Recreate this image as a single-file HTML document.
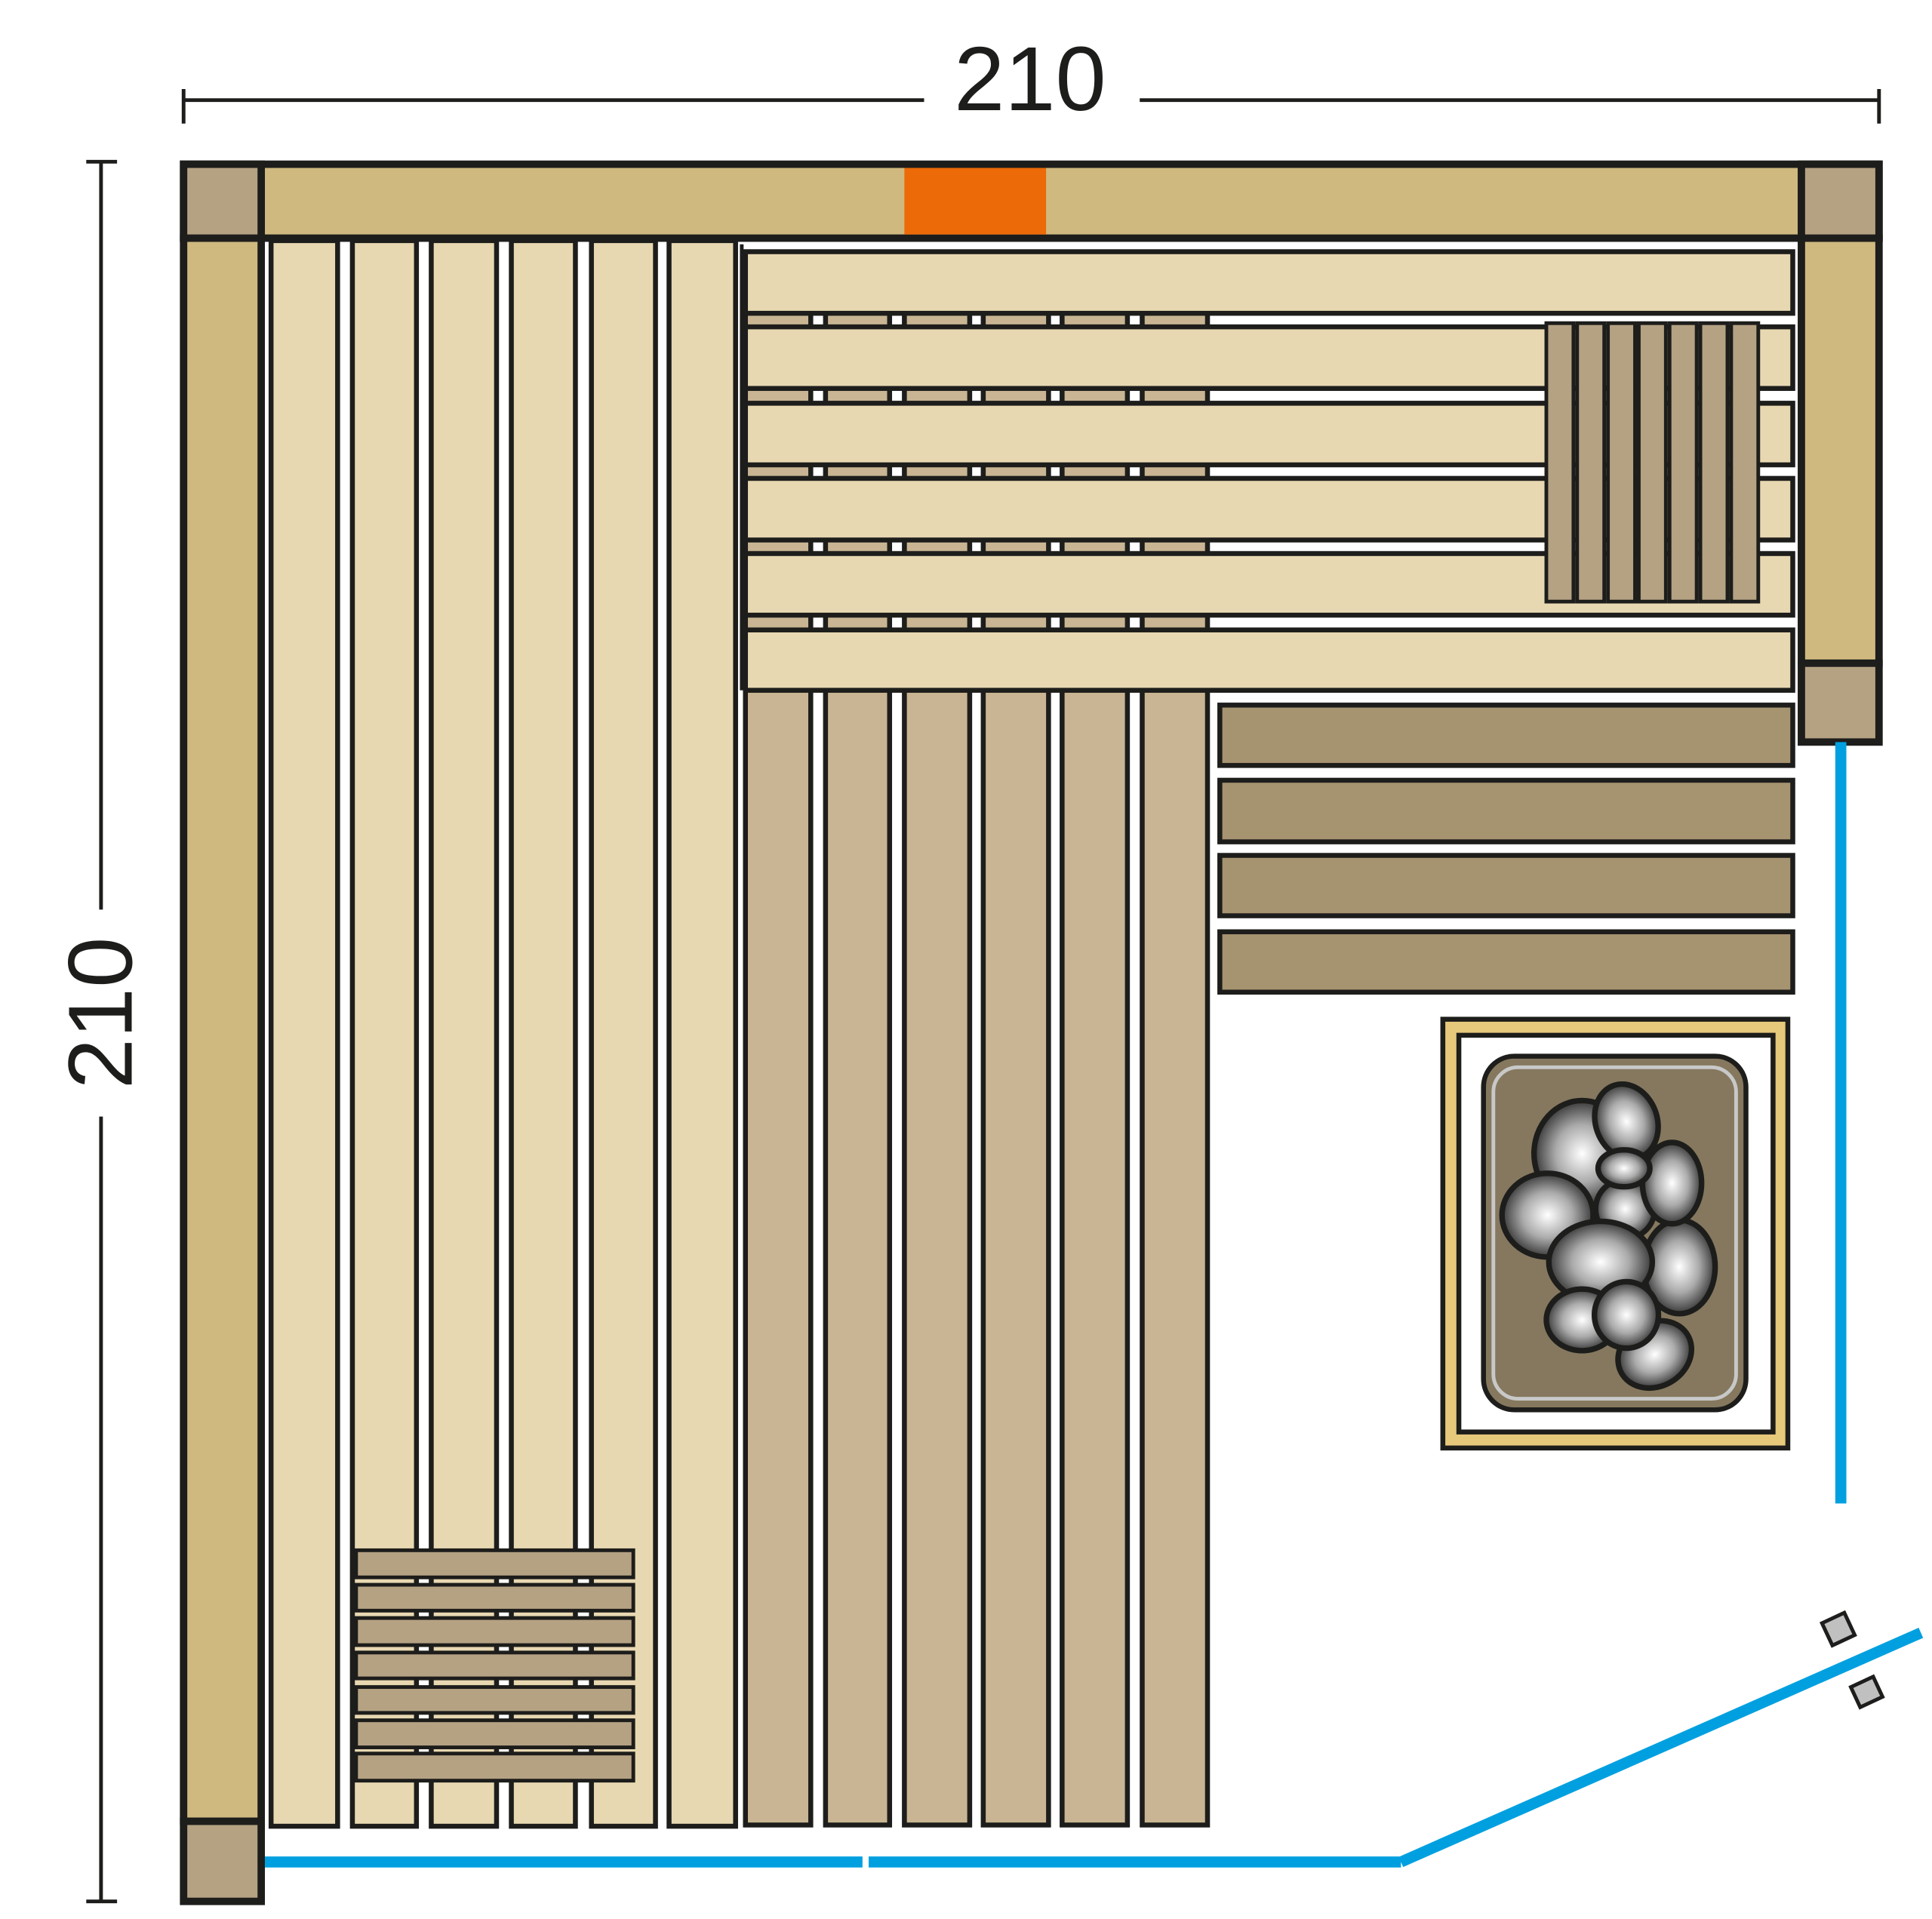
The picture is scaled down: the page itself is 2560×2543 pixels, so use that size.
<!DOCTYPE html>
<html><head><meta charset="utf-8"><style>html,body{margin:0;padding:0;background:#fff}svg{display:block}</style></head><body>
<svg width="2560" height="2543" viewBox="0 0 1568 1557" xmlns="http://www.w3.org/2000/svg">
<defs>
<radialGradient id="st" cx="50%" cy="50%" r="55%"><stop offset="0" stop-color="#fff"/><stop offset="0.5" stop-color="#aaa"/><stop offset="1" stop-color="#202020"/></radialGradient>
</defs>
<g stroke="#1d1d1b" stroke-width="3">
<line x1="149" y1="81" x2="750" y2="81"/><line x1="925" y1="81" x2="1525" y2="81"/>
<line x1="149" y1="72" x2="149" y2="100"/><line x1="1525" y1="72" x2="1525" y2="100"/>
<line x1="82" y1="131" x2="82" y2="738"/><line x1="82" y1="906" x2="82" y2="1543"/>
<line x1="70" y1="131" x2="95" y2="131"/><line x1="70" y1="1543" x2="95" y2="1543"/>
</g>
<text x="836" y="89" font-family="Liberation Sans, sans-serif" font-size="74" text-anchor="middle" fill="#1d1d1b">210</text>
<text transform="translate(107,822) rotate(-90)" x="0" y="0" font-family="Liberation Sans, sans-serif" font-size="74" text-anchor="middle" fill="#1d1d1b">210</text>

<g stroke="#1d1d1b" stroke-width="4">
<g fill="#c9b593">
<rect x="605" y="212" width="53" height="1269"/><rect x="670" y="212" width="52" height="1269"/>
<rect x="734" y="212" width="53" height="1269"/><rect x="798" y="212" width="53" height="1269"/>
<rect x="862" y="212" width="53" height="1269"/><rect x="927" y="212" width="53" height="1269"/>
</g>
<g fill="#e8d8b2">
<rect x="220" y="195" width="54" height="1287"/><rect x="286" y="195" width="52" height="1287"/>
<rect x="350" y="195" width="53" height="1287"/><rect x="415" y="195" width="52" height="1287"/>
<rect x="480" y="195" width="52" height="1287"/><rect x="543" y="195" width="54" height="1287"/>
</g>
<line x1="602" y1="198" x2="602" y2="560" stroke-width="3"/>
<g fill="#e8d8b2">
<rect x="605" y="204" width="850" height="50"/><rect x="605" y="265" width="850" height="50"/>
<rect x="605" y="327" width="850" height="50"/><rect x="605" y="388" width="850" height="50"/>
<rect x="605" y="449" width="850" height="50"/><rect x="605" y="511" width="850" height="49"/>
</g>
<g fill="#b5a283" stroke-width="3">
<rect x="1255" y="262" width="22" height="226"/><rect x="1280" y="262" width="22" height="226"/>
<rect x="1305" y="262" width="22" height="226"/><rect x="1330" y="262" width="22" height="226"/>
<rect x="1355" y="262" width="22" height="226"/><rect x="1380" y="262" width="22" height="226"/>
<rect x="1405" y="262" width="22" height="226"/>
</g>
<g fill="#a69370">
<rect x="990" y="572" width="465" height="49"/><rect x="990" y="633" width="465" height="50"/>
<rect x="990" y="694" width="465" height="49"/><rect x="990" y="756" width="465" height="49"/>
</g>
<g fill="#b5a283" stroke-width="3">
<rect x="289" y="1258" width="225" height="22"/><rect x="289" y="1286" width="225" height="21"/>
<rect x="289" y="1313" width="225" height="22"/><rect x="289" y="1341" width="225" height="21"/>
<rect x="289" y="1369" width="225" height="21"/><rect x="289" y="1396" width="225" height="22"/>
<rect x="289" y="1423" width="225" height="22"/>
</g>
<rect x="149" y="133" width="1376" height="60" fill="#cfb97f" stroke-width="6"/>
<rect x="734" y="136" width="115" height="54" fill="#ec6a08" stroke="none"/>
<rect x="149" y="193" width="63" height="1285" fill="#cfb97f" stroke-width="6"/>
<rect x="1462" y="193" width="63" height="345" fill="#cfb97f" stroke-width="6"/>
<g fill="#b5a283" stroke-width="6">
<rect x="149" y="133" width="63" height="60"/><rect x="1462" y="133" width="63" height="60"/>
<rect x="149" y="1478" width="63" height="65"/><rect x="1462" y="538" width="63" height="64"/>
</g>
<rect x="1171" y="827" width="280" height="348" fill="#e6c97a"/>
<rect x="1184" y="840" width="255" height="322" fill="#fff"/>
<rect x="1204" y="857" width="213" height="287" rx="25" fill="#85785e"/>
<rect x="1212" y="866" width="197" height="269" rx="20" fill="none" stroke="#c8c8c8" stroke-width="3"/>
<g fill="url(#st)" stroke-width="4.5">
<ellipse cx="1363" cy="1028" rx="29" ry="38"/>
<ellipse cx="1284" cy="936" rx="39" ry="43"/>
<ellipse cx="1319" cy="981" rx="24" ry="24"/>
<ellipse cx="1320" cy="910" rx="25" ry="31" transform="rotate(-20 1320 910)"/>
<ellipse cx="1357" cy="960" rx="24" ry="33"/>
<ellipse cx="1318" cy="948" rx="21" ry="15"/>
<ellipse cx="1256" cy="986" rx="37" ry="34"/>
<ellipse cx="1299" cy="1024" rx="42" ry="33"/>
<ellipse cx="1343" cy="1099" rx="31" ry="26" transform="rotate(-30 1343 1099)"/>
<ellipse cx="1284" cy="1071" rx="29" ry="25"/>
<ellipse cx="1320" cy="1067" rx="26" ry="27"/>
</g>
<g fill="#c0c0c0" stroke-width="3">
<rect x="1482" y="1312" width="20" height="20" transform="rotate(-25 1492 1322)"/>
<rect x="1505" y="1364" width="20" height="18" transform="rotate(-25 1515 1373)"/>
</g>
</g>
<g stroke="#00a0e0" stroke-width="9" fill="none">
<line x1="1494" y1="602" x2="1494" y2="1220"/>
<line x1="215" y1="1511" x2="700" y2="1511"/>
<line x1="705" y1="1511" x2="1137" y2="1511"/>
<line x1="1137" y1="1511" x2="1559" y2="1325"/>
</g>
</svg>
</body></html>
